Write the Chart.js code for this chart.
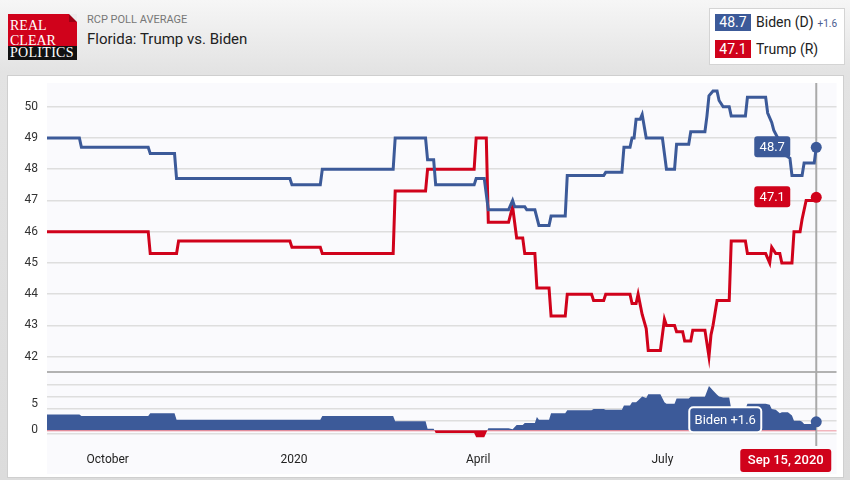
<!DOCTYPE html>
<html>
<head>
<meta charset="utf-8">
<script src="https://cdn.jsdelivr.net/npm/chart.js@4/dist/chart.umd.min.js"></script>
<style>
  body { margin: 0; width: 850px; height: 480px; overflow: hidden; position: relative;
         background: linear-gradient(#f6f6f6 0, #e3e3e3 72px, #dcdcdc 480px); font-family: Roboto, sans-serif; }
  .logo { position: absolute; left: 8px; top: 14px; width: 69px; height: 46px; background: #d0021b; overflow: hidden; }
  .logo .fold { position: absolute; right: 0; top: 0; width: 0; height: 0;
                border-top: 8px solid #ececec; border-left: 8px solid #9c0014; }
  .logo .txt { position: absolute; left: 2px; color: #fff; font-family: "Liberation Serif", serif; font-size: 14px; line-height: 14px; }
  .logo .pol { position: absolute; left: 0; bottom: 0; width: 69px; height: 14px; background: #111; }
  .kicker { position: absolute; left: 87px; top: 13px; font-size: 11px; line-height: 14px; color: #777; }
  .title { position: absolute; left: 87px; top: 30px; font-size: 15px; line-height: 18px; color: #222; }
  .legend { position: absolute; left: 709px; top: 8px; width: 134px; height: 55px; background: #fff; border: 1px solid #d4d4d4; }
  .sw { position: absolute; left: 5px; width: 36px; color: #fff; font-size: 14px; text-align: center; }
  .lt { position: absolute; left: 46px; font-size: 14px; color: #222; }
  .lt small { font-size: 10px; color: #4b5d8f; margin-left: 4px; }
  .panel { position: absolute; left: 7px; top: 75px; width: 835px; height: 401px; background: #fff; border: 1px solid #cfcfcf; }
  canvas { position: absolute; left: 8px; top: 76px; }
</style>
</head>
<body>
<div class="logo">
  <div class="fold"></div>
  <div class="txt" style="top:5px">REAL</div>
  <div class="txt" style="top:20px">CLEAR</div>
  <div class="pol"></div>
  <div class="txt" style="top:32px;letter-spacing:0.3px">POLITICS</div>
</div>
<div class="kicker">RCP POLL AVERAGE</div>
<div class="title">Florida: Trump vs. Biden</div>
<div class="legend">
  <div class="sw" id="swB" style="top:5px;height:17px;line-height:17px;background:#3c5a99"></div>
  <div class="lt" style="top:5px;line-height:17px">Biden (D)<small id="legSpread"></small></div>
  <div class="sw" id="swT" style="top:31px;height:18px;line-height:18px;background:#d0021b"></div>
  <div class="lt" style="top:31px;line-height:18px">Trump (R)</div>
</div>
<div class="panel"></div>
<canvas id="chart" width="834" height="401"></canvas>

<script>
// x values are days since Sep 1, 2019
const monthTickDays = [30, 122, 213, 304];
const monthTickLabels = ['October', '2020', 'April', 'July'];
const lastDate = 'Sep 15, 2020';

const bidenDays = [0, 16, 17, 50, 51, 63, 64, 120, 121, 135, 136, 171, 172, 187, 188, 191, 192, 211, 212, 216,
  218, 228, 230, 231, 236, 237, 241, 243, 248, 249, 256, 257, 275, 276, 284, 285, 288, 289, 290, 291,
  293, 294, 296, 304, 305, 306, 310, 311, 317, 318, 325, 326, 327, 329, 331, 332, 334, 337, 338, 345,
  346, 355, 356, 358, 359, 361, 363, 366, 367, 368, 373, 374, 379, 380];
const bidenVals = [49.0, 49.0, 48.7, 48.7, 48.5, 48.5, 47.7, 47.7, 47.5, 47.5, 48.0, 48.0, 49.0, 49.0, 48.3, 48.3, 47.5, 47.5, 47.7, 47.7,
  46.7, 46.7, 47.0, 46.8, 46.8, 46.7, 46.7, 46.2, 46.2, 46.5, 46.5, 47.8, 47.8, 47.9, 47.9, 48.7, 48.7, 49.0, 49.0, 49.6,
  49.6, 49.75, 49.0, 49.0, 48.5, 48.0, 48.0, 48.8, 48.8, 49.2, 49.2, 49.7, 50.35, 50.5, 50.5, 50.2, 50.0, 50.0, 49.7, 49.7,
  50.3, 50.3, 49.8, 49.5, 49.25, 49.0, 48.5, 48.4, 48.35, 47.8, 47.8, 48.2, 48.2, 48.7];

const trumpDays = [0, 50, 51, 64, 65, 120, 121, 135, 136, 171, 172, 187, 188, 211, 212, 217, 218, 228, 230, 232,
  235, 236, 241, 242, 248, 249, 256, 257, 269, 270, 275, 276, 288, 289, 291, 292, 294, 296, 297, 303,
  305, 306, 310, 311, 314, 315, 318, 319, 325, 327, 328, 329, 331, 334, 337, 338, 345, 346, 355, 357,
  358, 360, 362, 363, 368, 369, 372, 373, 375, 379, 380];
const trumpVals = [46.0, 46.0, 45.3, 45.3, 45.7, 45.7, 45.5, 45.5, 45.3, 45.3, 47.3, 47.3, 48.0, 48.0, 49.0, 49.0, 46.3, 46.3, 46.8, 45.8,
  45.8, 45.3, 45.3, 44.2, 44.2, 43.3, 43.3, 44.0, 44.0, 43.8, 43.8, 44.0, 44.0, 43.7, 43.7, 44.0, 43.35, 42.9, 42.2, 42.2,
  43.2, 43.0, 43.0, 42.8, 42.8, 42.5, 42.5, 42.85, 42.85, 42.0, 42.7, 43.0, 43.8, 43.8, 43.8, 45.7, 45.7, 45.3, 45.3, 45.0,
  45.5, 45.3, 45.3, 45.0, 45.0, 46.0, 46.0, 46.4, 47.0, 47.0, 47.1];

const spreadDays = [0, 16, 17, 50, 51, 63, 64, 135, 136, 171, 172, 187, 188, 191, 192, 211, 212, 216, 218, 228,
  230, 232, 235, 236, 241, 242, 243, 248, 249, 256, 257, 269, 270, 275, 276, 284, 285, 288, 289, 291,
  292, 294, 296, 297, 303, 305, 306, 310, 311, 317, 318, 325, 327, 329, 331, 332, 334, 337, 338, 345,
  346, 355, 357, 358, 360, 362, 363, 366, 368, 369, 372, 373, 374, 379, 380];
const spreadVals = [3.0, 3.0, 2.7, 2.7, 3.2, 3.2, 2.0, 2.0, 2.7, 2.7, 1.7, 1.7, 0.3, 0.3, -0.5, -0.5, -1.3, -1.3, 0.4, 0.4,
  0.2, 1.0, 1.0, 1.4, 1.4, 2.5, 2.0, 2.0, 3.2, 3.2, 3.8, 3.8, 4.0, 4.0, 3.9, 3.9, 4.7, 4.7, 5.3, 5.3,
  5.6, 6.4, 6.1, 6.8, 6.8, 5.3, 5.0, 5.0, 6.0, 6.0, 6.35, 6.35, 8.35, 7.5, 6.7, 6.4, 6.2, 6.2, 4.0, 4.0,
  5.0, 5.0, 4.8, 4.0, 3.9, 3.2, 3.4, 3.4, 2.8, 1.8, 1.8, 1.6, 1.2, 1.2, 1.6];

const pollTicks = [42, 43, 44, 45, 46, 47, 48, 49, 50];
const spreadTickLabels = [0, 5];
const spreadGridLines = [-0.6, 1.72, 4.04, 6.36, 8.68];

const BLUE = '#3c5a99';
const RED = '#d0021b';

const lastOf = (a) => a[a.length - 1];
document.getElementById('swB').textContent = lastOf(bidenVals).toFixed(1);
document.getElementById('swT').textContent = lastOf(trumpVals).toFixed(1);
document.getElementById('legSpread').textContent = '+' + lastOf(spreadVals).toFixed(1);

function roundBox(ctx, x, y, w, h, r) {
  ctx.beginPath();
  ctx.moveTo(x + r, y);
  ctx.arcTo(x + w, y, x + w, y + h, r);
  ctx.arcTo(x + w, y + h, x, y + h, r);
  ctx.arcTo(x, y + h, x, y, r);
  ctx.arcTo(x, y, x + w, y, r);
  ctx.closePath();
}

const chartBackground = {
  id: 'chartBackground',
  beforeDraw(chart) {
    const { ctx, chartArea } = chart;
    ctx.save();
    ctx.fillStyle = '#fafafd';
    ctx.fillRect(chartArea.left, chartArea.top, chartArea.right - chartArea.left, chart.height - chartArea.top - 3);
    ctx.restore();
  },
  beforeDatasetsDraw(chart) {
    const { ctx, chartArea, scales } = chart;
    const x = scales.x.getPixelForValue(lastOf(bidenDays));
    ctx.save();
    ctx.lineWidth = 2;
    ctx.strokeStyle = '#b2b2b2';
    ctx.beginPath();
    ctx.moveTo(chartArea.left, scales.y.bottom);
    ctx.lineTo(chartArea.right, scales.y.bottom);
    ctx.stroke();
    ctx.strokeStyle = '#a9a9a9';
    ctx.beginPath();
    ctx.moveTo(x, chartArea.top);
    ctx.lineTo(x, chartArea.bottom);
    ctx.stroke();
    ctx.restore();
  }
};

const endMarkers = {
  id: 'endMarkers',
  afterDatasetsDraw(chart) {
    const { ctx, chartArea } = chart;
    ctx.save();
    ctx.font = '13px Roboto';
    ctx.textAlign = 'center';
    ctx.textBaseline = 'middle';
    [[0, BLUE], [1, RED]].forEach(([i, color]) => {
      const pts = chart.getDatasetMeta(i).data;
      const p = pts[pts.length - 1];
      const vals = i === 0 ? bidenVals : trumpVals;
      const w = 36, h = 21, right = p.x - 26;
      roundBox(ctx, right - w, p.y - h / 2 - 0.5, w, h, 3);
      ctx.fillStyle = color;
      ctx.fill();
      ctx.fillStyle = '#fff';
      ctx.fillText(lastOf(vals).toFixed(1), right - w / 2, p.y);
    });
    const sp = chart.getDatasetMeta(2).data;
    const q = sp[sp.length - 1];
    const bw = 72, bh = 25, bright = q.x - 55;
    roundBox(ctx, bright - bw, q.y - bh / 2 - 2, bw, bh, 4);
    ctx.fillStyle = BLUE;
    ctx.fill();
    ctx.lineWidth = 2;
    ctx.strokeStyle = '#fff';
    ctx.stroke();
    ctx.fillStyle = '#fff';
    ctx.fillText('Biden +' + lastOf(spreadVals).toFixed(1), bright - bw / 2, q.y - 1.5);

    // date box under the axis
    const dw = 91, dh = 23, dright = q.x + 15;
    roundBox(ctx, dright - dw, chartArea.bottom + 3, dw, dh, 3);
    ctx.fillStyle = RED;
    ctx.fill();
    ctx.fillStyle = '#fff';
    ctx.font = '500 13px Roboto';
    ctx.fillText(lastDate, dright - dw / 2, chartArea.bottom + 3 + dh / 2 + 0.5);
    ctx.restore();
  }
};

const toPoints = (days, vals) => days.map((d, i) => ({ x: d, y: vals[i] }));
const lastDot = (c) => (c.dataIndex === c.dataset.data.length - 1 ? 5.5 : 0);
const tickFont = { family: 'Roboto', size: 12 };
const fitLeftAxis = (s) => { s.width = 39; s.paddingTop = 0; s.paddingBottom = 0; };

new Chart(document.getElementById('chart'), {
  type: 'line',
  data: {
    datasets: [
      { label: 'Biden', data: toPoints(bidenDays, bidenVals), yAxisID: 'y', borderColor: BLUE, borderWidth: 3,
        pointRadius: lastDot, pointBackgroundColor: BLUE, pointBorderWidth: 0, tension: 0 },
      { label: 'Trump', data: toPoints(trumpDays, trumpVals), yAxisID: 'y', borderColor: RED, borderWidth: 3,
        pointRadius: lastDot, pointBackgroundColor: RED, pointBorderWidth: 0, tension: 0 },
      { label: 'Spread', data: toPoints(spreadDays, spreadVals), yAxisID: 'y2', borderColor: 'rgba(0,0,0,0)', borderWidth: 0,
        fill: { target: 'origin', above: BLUE, below: RED },
        pointRadius: lastDot, pointBackgroundColor: BLUE, pointBorderWidth: 0, tension: 0 },
    ],
  },
  options: {
    responsive: false,
    animation: false,
    events: [],
    layout: { padding: { top: 7, right: 3, left: 0, bottom: 0 } },
    plugins: { legend: { display: false }, tooltip: { enabled: false } },
    scales: {
      x: {
        type: 'linear', min: 0, max: 390,
        grid: { display: false, drawTicks: false }, border: { display: false },
        afterBuildTicks: (s) => { s.ticks = monthTickDays.map((v) => ({ value: v })); },
        afterFit: (s) => { s.height = 31; s.paddingLeft = 0; s.paddingRight = 0; },
        ticks: { autoSkip: false, maxRotation: 0, padding: 7, color: '#222', font: tickFont,
                 callback: (v, i) => monthTickLabels[i] },
      },
      // spread panel is listed first so that the stack puts it below the poll panel
      y2: {
        type: 'linear', position: 'left', stack: 'poll', stackWeight: 74,
        min: -2.96, max: 11.0,
        afterBuildTicks: (s) => {
          s.ticks = spreadGridLines.concat(spreadTickLabels).sort((a, b) => a - b).map((v) => ({ value: v }));
        },
        afterFit: fitLeftAxis,
        grid: {
          drawTicks: false, lineWidth: 1.5,
          color: (c) => (c.tick.value === 0 ? '#f2b5bd' : spreadTickLabels.includes(c.tick.value) ? 'rgba(0,0,0,0)' : '#dedede'),
        },
        border: { display: false },
        ticks: { autoSkip: false, padding: 9, color: '#333', font: tickFont,
                 callback: (v) => (spreadTickLabels.includes(v) ? String(v) : '') },
      },
      y: {
        type: 'linear', position: 'left', stack: 'poll', stackWeight: 289,
        min: 41.51, max: 50.76,
        afterBuildTicks: (s) => { s.ticks = pollTicks.map((v) => ({ value: v })); },
        afterFit: fitLeftAxis,
        grid: { color: '#dedede', lineWidth: 1.5, drawTicks: false }, border: { display: false },
        ticks: { autoSkip: false, padding: 9, color: '#333', font: tickFont },
      },
    },
  },
  plugins: [chartBackground, endMarkers],
});
</script>
</body>
</html>
